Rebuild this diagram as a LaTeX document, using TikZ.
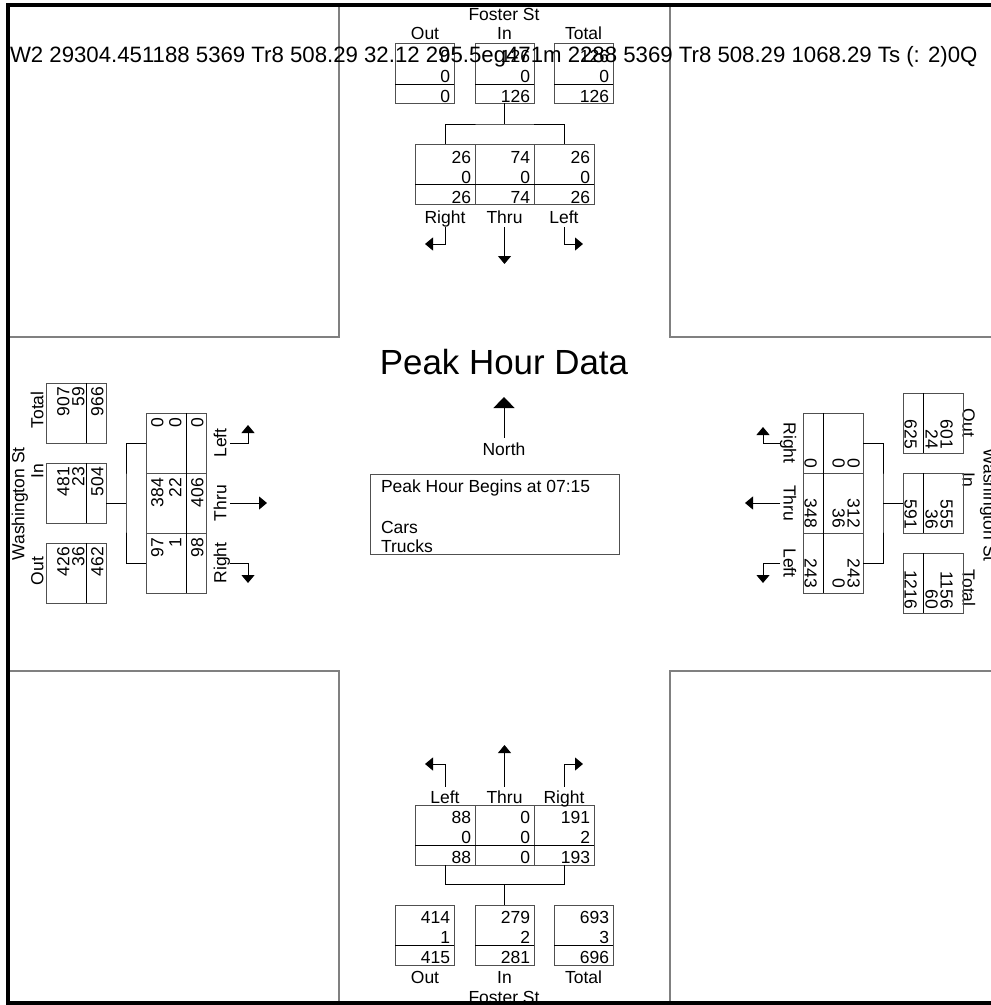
\documentclass[tikz,border=0pt]{standalone}
\usepackage{fontspec}
\setmainfont{Liberation Sans}
\usetikzlibrary{arrows.meta}
\definecolor{boxgray}{HTML}{505050}
\definecolor{blkgray}{HTML}{808080}
\begin{document}
\begin{tikzpicture}[x=1pt,y=-1pt,
  txt/.style={inner sep=0pt,outer sep=0pt,text height=12.6pt,text depth=0pt,font=\fontsize{17.5}{20}\selectfont},
  val/.style={txt,anchor=east},
  lab/.style={txt,outer sep=4pt},
  cell/.style={draw=boxgray,line width=1pt,inner sep=0pt,outer sep=0pt,anchor=north west,minimum height=60pt},
  divl/.style={line width=1pt,black},
  conn/.style={line width=1pt,black},
  arr/.style={conn,-{Triangle[width=13pt,length=8pt]}},
  blk/.style={draw=blkgray,line width=1.2pt}
]
\useasboundingbox (0,0) rectangle (991,1005);
\clip (0,0) rectangle (991,1005);
% quadrant blocks
\draw[blk] (7.5,337) -- (339,337) -- (339,5);
\draw[blk] (995,337) -- (670,337) -- (670,5);
\draw[blk] (7.5,671) -- (339,671) -- (339,1003);
\draw[blk] (995,671) -- (670,671) -- (670,1003);

% ================= TOP (Foster St, north leg) =================
\node[txt] (tSt) at (504,14) {Foster St};
\node[txt] (tOutL) at (425,33) {Out};
\node[txt] (tInL) at (504.5,33) {In};
\node[txt] (tTotL) at (583.5,33) {Total};
\node[cell,minimum width=59pt] (tOut) at (395,43) {};
\node[cell,minimum width=59pt] (tIn) at (475,43) {};
\node[cell,minimum width=59pt] (tTot) at (554,43) {};
\foreach \b in {tOut,tIn,tTot}{\draw[divl] ([yshift=-41pt]\b.north west) -- ([yshift=-41pt]\b.north east);}
\node[val] (tOut1) at ([xshift=-4pt,yshift=-13pt]tOut.north east) {0};
\node[val] (tOut2) at ([xshift=-4pt,yshift=-33pt]tOut.north east) {0};
\node[val] (tOut3) at ([xshift=-4pt,yshift=-53pt]tOut.north east) {0};
\node[val] (tIn1) at ([xshift=-4pt,yshift=-13pt]tIn.north east) {126};
\node[val] (tIn2) at ([xshift=-4pt,yshift=-33pt]tIn.north east) {0};
\node[val] (tIn3) at ([xshift=-4pt,yshift=-53pt]tIn.north east) {126};
\node[val] (tTot1) at ([xshift=-4pt,yshift=-13pt]tTot.north east) {126};
\node[val] (tTot2) at ([xshift=-4pt,yshift=-33pt]tTot.north east) {0};
\node[val] (tTot3) at ([xshift=-4pt,yshift=-53pt]tTot.north east) {126};
% movement table
\node[cell,minimum width=60pt] (tR) at (415,144) {};
\node[cell,minimum width=59pt] (tT) at (475,144) {};
\node[cell,minimum width=60pt] (tL) at (534,144) {};
\draw[divl] ([yshift=-40pt]tR.north west) -- ([yshift=-40pt]tL.north east);
\node[val] (tR1) at ([xshift=-4pt,yshift=-13pt]tR.north east) {26};
\node[val] (tR2) at ([xshift=-4pt,yshift=-33pt]tR.north east) {0};
\node[val] (tR3) at ([xshift=-4pt,yshift=-53pt]tR.north east) {26};
\node[val] (tT1) at ([xshift=-4pt,yshift=-13pt]tT.north east) {74};
\node[val] (tT2) at ([xshift=-4pt,yshift=-33pt]tT.north east) {0};
\node[val] (tT3) at ([xshift=-4pt,yshift=-53pt]tT.north east) {74};
\node[val] (tL1) at ([xshift=-4pt,yshift=-13pt]tL.north east) {26};
\node[val] (tL2) at ([xshift=-4pt,yshift=-33pt]tL.north east) {0};
\node[val] (tL3) at ([xshift=-4pt,yshift=-53pt]tL.north east) {26};
\coordinate (tJ) at (504.5,124);
\draw[conn] (tR.north) |- (tJ) -| (tL.north);
\draw[conn] (tIn.south) -- (tJ);
\node[lab] (tRl) at (445,217) {Right};
\node[lab] (tTl) at (504.5,217) {Thru};
\node[lab] (tLl) at (564,217) {Left};
\coordinate (tRa) at (425,244);
\coordinate (tTa) at (504.5,264);
\coordinate (tLa) at (583,244);
\draw[arr] (tRl.south) |- (tRa);
\draw[arr] (tTl.south) -- (tTa);
\draw[arr] (tLl.south) |- (tLa);

% ================= BOTTOM (Foster St, south leg) =================
\node[cell,minimum width=60pt] (bL) at (415,805) {};
\node[cell,minimum width=59pt] (bT) at (475,805) {};
\node[cell,minimum width=60pt] (bR) at (534,805) {};
\draw[divl] ([yshift=-40pt]bL.north west) -- ([yshift=-40pt]bR.north east);
\node[val] (bL1) at ([xshift=-4pt,yshift=-12pt]bL.north east) {88};
\node[val] (bL2) at ([xshift=-4pt,yshift=-32pt]bL.north east) {0};
\node[val] (bL3) at ([xshift=-4pt,yshift=-52pt]bL.north east) {88};
\node[val] (bT1) at ([xshift=-4pt,yshift=-12pt]bT.north east) {0};
\node[val] (bT2) at ([xshift=-4pt,yshift=-32pt]bT.north east) {0};
\node[val] (bT3) at ([xshift=-4pt,yshift=-52pt]bT.north east) {0};
\node[val] (bR1) at ([xshift=-4pt,yshift=-12pt]bR.north east) {191};
\node[val] (bR2) at ([xshift=-4pt,yshift=-32pt]bR.north east) {2};
\node[val] (bR3) at ([xshift=-4pt,yshift=-52pt]bR.north east) {193};
\node[lab] (bLl) at (445,797) {Left};
\node[lab] (bTl) at (504.5,797) {Thru};
\node[lab] (bRl) at (564,797) {Right};
\coordinate (bLa) at (425,764);
\coordinate (bTa) at (504.5,745);
\coordinate (bRa) at (583,764);
\draw[arr] (bLl.north) |- (bLa);
\draw[arr] (bTl.north) -- (bTa);
\draw[arr] (bRl.north) |- (bRa);
\node[cell,minimum width=59pt] (bOut) at (395,905) {};
\node[cell,minimum width=59pt] (bIn) at (475,905) {};
\node[cell,minimum width=59pt] (bTot) at (554,905) {};
\foreach \b in {bOut,bIn,bTot}{\draw[divl] ([yshift=-40pt]\b.north west) -- ([yshift=-40pt]\b.north east);}
\node[val] (bOut1) at ([xshift=-4pt,yshift=-12pt]bOut.north east) {414};
\node[val] (bOut2) at ([xshift=-4pt,yshift=-32pt]bOut.north east) {1};
\node[val] (bOut3) at ([xshift=-4pt,yshift=-52pt]bOut.north east) {415};
\node[val] (bIn1) at ([xshift=-4pt,yshift=-12pt]bIn.north east) {279};
\node[val] (bIn2) at ([xshift=-4pt,yshift=-32pt]bIn.north east) {2};
\node[val] (bIn3) at ([xshift=-4pt,yshift=-52pt]bIn.north east) {281};
\node[val] (bTot1) at ([xshift=-4pt,yshift=-12pt]bTot.north east) {693};
\node[val] (bTot2) at ([xshift=-4pt,yshift=-32pt]bTot.north east) {3};
\node[val] (bTot3) at ([xshift=-4pt,yshift=-52pt]bTot.north east) {696};
\coordinate (bJ) at (504.5,884);
\draw[conn] (bL.south) |- (bJ) -| (bR.south);
\draw[conn] (bIn.north) -- (bJ);
\node[txt] (bOutL) at (425,977) {Out};
\node[txt] (bInL) at (504.5,977) {In};
\node[txt] (bTotL) at (583.5,977) {Total};
\node[txt] (bSt) at (504,997) {Foster St};

% ================= LEFT (Washington St, west leg) =================
\node[txt,rotate=90] (lSt) at (18,504) {Washington St};
\node[txt,rotate=90] (lTotL) at (37,410) {Total};
\node[txt,rotate=90] (lInL) at (37,471) {In};
\node[txt,rotate=90] (lOutL) at (37,571) {Out};
\node[cell,minimum width=60pt] (lTot) at (46,383) {};
\node[cell,minimum width=60pt] (lIn) at (46,463) {};
\node[cell,minimum width=60pt] (lOut) at (46,543) {};
\foreach \b in {lTot,lIn,lOut}{\draw[divl] ([xshift=40pt]\b.north west) -- ([xshift=40pt]\b.south west);}
\node[val,rotate=90] (lTot1) at ([xshift=17pt,yshift=-4pt]lTot.north west) {907};
\node[val,rotate=90] (lTot2) at ([xshift=32pt,yshift=-4pt]lTot.north west) {59};
\node[val,rotate=90] (lTot3) at ([xshift=51pt,yshift=-4pt]lTot.north west) {966};
\node[val,rotate=90] (lIn1) at ([xshift=17pt,yshift=-4pt]lIn.north west) {481};
\node[val,rotate=90] (lIn2) at ([xshift=32pt,yshift=-4pt]lIn.north west) {23};
\node[val,rotate=90] (lIn3) at ([xshift=51pt,yshift=-4pt]lIn.north west) {504};
\node[val,rotate=90] (lOut1) at ([xshift=17pt,yshift=-4pt]lOut.north west) {426};
\node[val,rotate=90] (lOut2) at ([xshift=32pt,yshift=-4pt]lOut.north west) {36};
\node[val,rotate=90] (lOut3) at ([xshift=51pt,yshift=-4pt]lOut.north west) {462};
\node[cell,minimum width=60pt] (lL) at (146,413) {};
\node[cell,minimum width=60pt] (lT) at (146,473) {};
\node[cell,minimum width=60pt] (lR) at (146,533) {};
\draw[divl] ([xshift=40pt]lL.north west) -- ([xshift=40pt]lR.south west);
\node[val,rotate=90] (lL1) at ([xshift=11pt,yshift=-5pt]lL.north west) {0};
\node[val,rotate=90] (lL2) at ([xshift=29pt,yshift=-5pt]lL.north west) {0};
\node[val,rotate=90] (lL3) at ([xshift=51pt,yshift=-5pt]lL.north west) {0};
\node[val,rotate=90] (lT1) at ([xshift=11pt,yshift=-5pt]lT.north west) {384};
\node[val,rotate=90] (lT2) at ([xshift=29pt,yshift=-5pt]lT.north west) {22};
\node[val,rotate=90] (lT3) at ([xshift=51pt,yshift=-5pt]lT.north west) {406};
\node[val,rotate=90] (lR1) at ([xshift=11pt,yshift=-5pt]lR.north west) {97};
\node[val,rotate=90] (lR2) at ([xshift=29pt,yshift=-5pt]lR.north west) {1};
\node[val,rotate=90] (lR3) at ([xshift=51pt,yshift=-5pt]lR.north west) {98};
\coordinate (lJ) at (126,503);
\draw[conn] (lL.west) -| (lJ) |- (lR.west);
\draw[conn] (lIn.east |- lJ) -- (lJ);
\node[lab,rotate=90] (lLl) at (220,443) {Left};
\node[lab,rotate=90] (lTl) at (220,503) {Thru};
\node[lab,rotate=90] (lRl) at (220,563) {Right};
\coordinate (lLa) at (248,425);
\coordinate (lTa) at (267,503);
\coordinate (lRa) at (248,583);
\draw[arr] (lLl.south) -| (lLa);
\draw[arr] (lTl.south) -- (lTa);
\draw[arr] (lRl.south) -| (lRa);

% ================= RIGHT (Washington St, east leg) =================
\node[txt,rotate=-90] (rSt) at (990,505) {Washington St};
\node[txt,rotate=-90] (rOutL) at (969,423) {Out};
\node[txt,rotate=-90] (rInL) at (969,480) {In};
\node[txt,rotate=-90] (rTotL) at (969,588) {Total};
\node[cell,minimum width=60pt] (rOut) at (903,393) {};
\node[cell,minimum width=60pt] (rIn) at (903,473) {};
\node[cell,minimum width=60pt] (rTot) at (903,553) {};
\foreach \b in {rOut,rIn,rTot}{\draw[divl] ([xshift=-40pt]\b.north east) -- ([xshift=-40pt]\b.south east);}
\node[val,rotate=-90] (rOut1) at ([xshift=-16pt,yshift=4pt]rOut.south east) {601};
\node[val,rotate=-90] (rOut2) at ([xshift=-31pt,yshift=4pt]rOut.south east) {24};
\node[val,rotate=-90] (rOut3) at ([xshift=-52pt,yshift=4pt]rOut.south east) {625};
\node[val,rotate=-90] (rIn1) at ([xshift=-16pt,yshift=4pt]rIn.south east) {555};
\node[val,rotate=-90] (rIn2) at ([xshift=-31pt,yshift=4pt]rIn.south east) {36};
\node[val,rotate=-90] (rIn3) at ([xshift=-52pt,yshift=4pt]rIn.south east) {591};
\node[val,rotate=-90] (rTot1) at ([xshift=-16pt,yshift=4pt]rTot.south east) {1156};
\node[val,rotate=-90] (rTot2) at ([xshift=-31pt,yshift=4pt]rTot.south east) {60};
\node[val,rotate=-90] (rTot3) at ([xshift=-52pt,yshift=4pt]rTot.south east) {1216};
\node[cell,minimum width=60pt] (rR) at (803,413) {};
\node[cell,minimum width=60pt] (rT) at (803,473) {};
\node[cell,minimum width=60pt] (rL) at (803,533) {};
\draw[divl] ([xshift=-40pt]rR.north east) -- ([xshift=-40pt]rL.south east);
\node[val,rotate=-90] (rR1) at ([xshift=-9pt,yshift=5pt]rR.south east) {0};
\node[val,rotate=-90] (rR2) at ([xshift=-24pt,yshift=5pt]rR.south east) {0};
\node[val,rotate=-90] (rR3) at ([xshift=-52pt,yshift=5pt]rR.south east) {0};
\node[val,rotate=-90] (rT1) at ([xshift=-9pt,yshift=5pt]rT.south east) {312};
\node[val,rotate=-90] (rT2) at ([xshift=-24pt,yshift=5pt]rT.south east) {36};
\node[val,rotate=-90] (rT3) at ([xshift=-52pt,yshift=5pt]rT.south east) {348};
\node[val,rotate=-90] (rL1) at ([xshift=-9pt,yshift=5pt]rL.south east) {243};
\node[val,rotate=-90] (rL2) at ([xshift=-24pt,yshift=5pt]rL.south east) {0};
\node[val,rotate=-90] (rL3) at ([xshift=-52pt,yshift=5pt]rL.south east) {243};
\coordinate (rJ) at (883,503);
\draw[conn] (rR.east) -| (rJ) |- (rL.east);
\draw[conn] (rIn.west |- rJ) -- (rJ);
\node[lab,rotate=-90] (rRl) at (790,443) {Right};
\node[lab,rotate=-90] (rTl) at (790,503) {Thru};
\node[lab,rotate=-90] (rLl) at (790,563) {Left};
\coordinate (rRa) at (763,427);
\coordinate (rTa) at (745,503);
\coordinate (rLa) at (763,583);
\draw[arr] (rRl.south) -| (rRa);
\draw[arr] (rTl.south) -- (rTa);
\draw[arr] (rLl.south) -| (rLa);

% ================= CENTRE =================
\node[txt,font=\fontsize{34.9}{40}\selectfont,text height=25pt] (title) at (504,362) {Peak Hour Data};
\node[lab,outer sep=5pt] (north) at (504,449) {North};
\coordinate (ntip) at (504,397);
\draw[conn,-{Triangle[width=21pt,length=11pt]}] (north.north) -- (ntip);
\node[draw=boxgray,line width=1pt,anchor=north west,minimum width=249pt,minimum height=80pt,inner sep=0pt] (info) at (370,474) {};
\node[txt,anchor=west] (pk) at (381,486) {Peak Hour Begins at 07:15};
\node[txt,anchor=west] (cars) at (381,527) {Cars};
\node[txt,anchor=west] (trucks) at (381,546) {Trucks};

% stray text line across the top
\node[txt,font=\fontsize{22.2}{24}\selectfont,text height=15.9pt,anchor=west] (junk) at (10,55) {W2 29304.451188 5369 Tr8 508.29 32.12 295.5eg471m 2288 5369 Tr8 508.29 1068.29 Ts (: 2)0Q};

% outer frame
\draw[line width=4pt,black] (7.5,5) rectangle (1000,1003);
\end{tikzpicture}
\end{document}
